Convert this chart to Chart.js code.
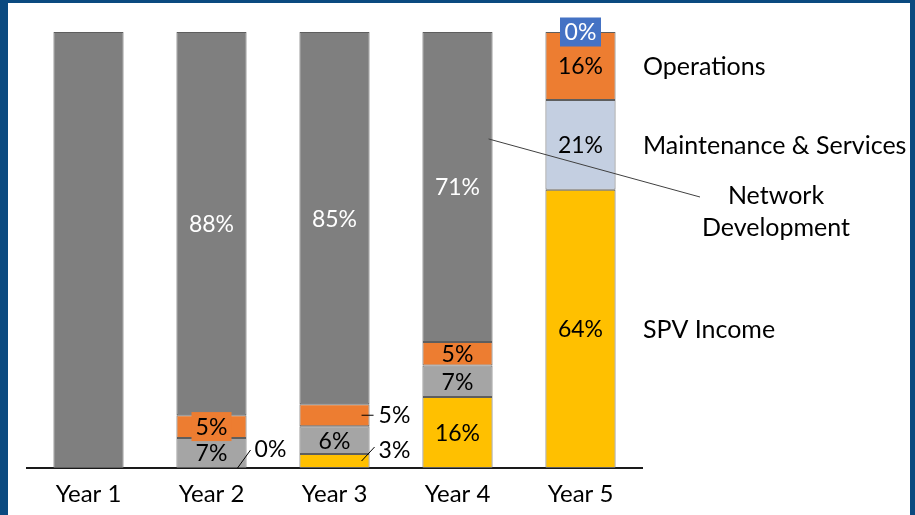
<!DOCTYPE html>
<html>
<head>
<meta charset="utf-8">
<script src="https://cdn.jsdelivr.net/npm/chart.js@4.4.1/dist/chart.umd.min.js"></script>
<style>
  html, body { margin: 0; padding: 0; background: #fff; }
  #frame {
    position: relative; width: 915px; height: 515px;
    background: #0B4A80; overflow: hidden;
  }
  #revenueMix {
    position: absolute; left: 8px; top: 3px;
    background: #fff;
  }
</style>
</head>
<body>
<div id="frame">
  <canvas id="revenueMix" width="902" height="512"></canvas>
</div>
<script>
// ---- data (share of revenue per year, %)
const years       = ['Year 1', 'Year 2', 'Year 3', 'Year 4', 'Year 5'];
const seriesNames = ['SPV Income', 'Maintenance & Services', 'Operations', 'Network Development'];
const spvIncome   = [0, 0, 3.2, 16.3, 63.8];
const maintenance = [0, 6.9, 6.4, 7.2, 20.6];
const operations  = [0, 5.2, 5.0, 5.4, 15.6];
const networkDev  = [100, 87.9, 85.4, 71.1, 0];

const FONT = 'Lato, "Liberation Sans", sans-serif';

// ---- label placement per series / year
// mode: 'in' = centred in segment, 'box' = centred with filled box, 'out' = beside the bar with a leader
const labelRules = {
    0: { 1: { mode: 'out', tx: 8, ty: -18, lx0: -9, ly0: 0, lx1: 4, ly1: -18 },
         2: { mode: 'out', tx: 9, ty: -10, lx0: -8, ly0: 0, lx1: 5, ly1: -14 } },
    2: { 1: { mode: 'box', fill: '#ED7D31', color: '#000', w: 40, h: 29 },
         2: { mode: 'out', tx: 9, ty: 0, lx0: -8, ly0: 0, lx1: 4, ly1: 0 } },
    3: { 0: { mode: 'none' },
         4: { mode: 'box', fill: '#4472C4', color: '#fff', w: 41, h: 29, atTop: true } },
};
const labelColors = ['#000', '#000', '#000', '#fff'];

const segmentLabels = {
    id: 'segmentLabels',
    afterDatasetsDraw(chart) {
        const ctx = chart.ctx;
        ctx.save();
        ctx.font = '23px ' + FONT;
        ctx.textBaseline = 'middle';
        chart.data.datasets.forEach((ds, i) => {
            const meta = chart.getDatasetMeta(i);
            meta.data.forEach((el, j) => {
                const v    = ds.data[j];
                const rule = (labelRules[i] && labelRules[i][j]) || { mode: 'in' };
                if (rule.mode === 'none') return;
                const txt   = Math.round(v) + '%';
                const right = el.x + el.width / 2;
                const cy    = (el.y + el.base) / 2;
                if (rule.mode === 'out') {
                    ctx.strokeStyle = '#000';
                    ctx.lineWidth = 1;
                    ctx.beginPath();
                    ctx.moveTo(right + rule.lx0, cy + rule.ly0);
                    ctx.lineTo(right + rule.lx1, cy + rule.ly1);
                    ctx.stroke();
                    ctx.fillStyle = '#000';
                    ctx.textAlign = 'left';
                    ctx.fillText(txt, right + rule.tx, cy + rule.ty);
                    return;
                }
                const y = rule.atTop ? el.y : cy;
                if (rule.mode === 'box') {
                    ctx.fillStyle = rule.fill;
                    ctx.fillRect(el.x - rule.w / 2, y - rule.h / 2, rule.w, rule.h);
                    ctx.fillStyle = rule.color;
                } else {
                    if (v < 1) return;
                    ctx.fillStyle = labelColors[i];
                }
                ctx.textAlign = 'center';
                ctx.fillText(txt, el.x, y + 1);
            });
        });

        // ---- series names beside the last bar
        const area = chart.chartArea;
        const last = years.length - 1;
        const nameX = area.right + 1;
        ctx.font = '25px ' + FONT;
        ctx.fillStyle = '#000';
        ctx.textAlign = 'left';
        [0, 1, 2].forEach(i => {
            const el = chart.getDatasetMeta(i).data[last];
            ctx.fillText(seriesNames[i], nameX, (el.y + el.base) / 2 + 1);
        });

        // network development sits out on its own with a leader to Year 4
        const net = chart.getDatasetMeta(3).data[3];
        const sx = net.x + net.width / 2 - 4;
        const sy = net.y + (net.base - net.y) * 0.345;
        ctx.strokeStyle = '#404040';
        ctx.lineWidth = 1;
        ctx.beginPath();
        ctx.moveTo(sx, sy);
        ctx.lineTo(area.right + 58, area.top + 165);
        ctx.stroke();
        ctx.textAlign = 'center';
        ctx.fillText('Network', area.right + 134, area.top + 164);
        ctx.fillText('Development', area.right + 134, area.top + 196);
        ctx.restore();
    }
};

const palette = {
    spv:   '#FFC000',
    maint: ['#A5A5A5', '#A5A5A5', '#A5A5A5', '#A5A5A5', '#C4CFE1'],
    ops:   '#ED7D31',
    net:   '#7F7F7F',
};

function makeSet(label, data, color) {
    return {
        label: label,
        data: data,
        backgroundColor: color,
        borderColor: '#5E5E5E',
        borderWidth: 1,
        borderSkipped: false,
        barPercentage: 0.57,
        categoryPercentage: 1,
    };
}

const chart = new Chart(document.getElementById('revenueMix'), {
    type: 'bar',
    data: {
        labels: years,
        datasets: [
            makeSet(seriesNames[0], spvIncome, palette.spv),
            makeSet(seriesNames[1], maintenance, palette.maint),
            makeSet(seriesNames[2], operations, palette.ops),
            makeSet(seriesNames[3], networkDev, palette.net),
        ],
    },
    options: {
        responsive: false,
        animation: false,
        layout: { padding: { left: 19, right: 268, top: 29, bottom: 0 } },
        plugins: { legend: { display: false }, tooltip: { enabled: false } },
        scales: {
            x: {
                stacked: true,
                grid: { display: false, drawTicks: false },
                border: { display: true, color: '#1a1a1a', width: 2 },
                ticks: { color: '#000', font: { family: FONT, size: 24 }, padding: 12 },
                afterFit(scale) { scale.height = 47; },
            },
            y: {
                stacked: true,
                display: false,
                min: 0,
                max: 100,
            },
        },
    },
    plugins: [segmentLabels],
});
</script>
</body>
</html>
